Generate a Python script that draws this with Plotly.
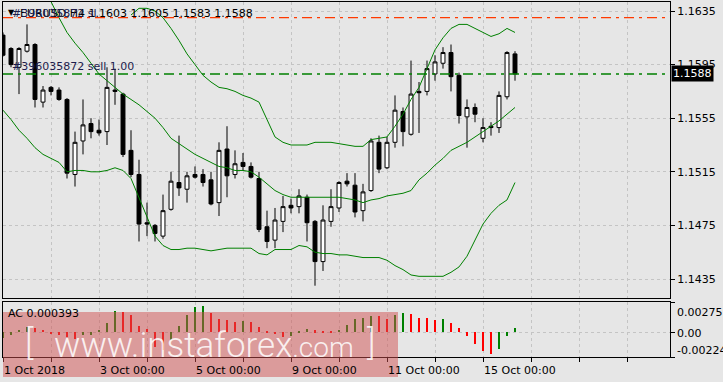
import plotly.graph_objects as go

W, H = 723, 382

# ---------------- data (EURUSD H4) ----------------
opens = [1.1617, 1.1607, 1.1593, 1.1605, 1.1610, 1.1567, 1.1578, 1.1576, 1.1569, 1.1513,
         1.1538, 1.1551, 1.1546, 1.1545, 1.1576, 1.1573, 1.1531, 1.1513, 1.1477, 1.1475,
         1.1467, 1.1487, 1.1507, 1.1502, 1.1513, 1.1513, 1.1509, 1.1492, 1.1532, 1.1513,
         1.1522, 1.1519, 1.1510, 1.1474, 1.1464, 1.1478, 1.1490, 1.1489, 1.1496, 1.1478,
         1.1448, 1.1478, 1.1488, 1.1508, 1.1505, 1.1486, 1.1501, 1.1537, 1.1518, 1.1537,
         1.1560, 1.1543, 1.1575, 1.1575, 1.1588, 1.1596, 1.1604, 1.1587, 1.1556, 1.1563,
         1.1540, 1.1549, 1.1548, 1.1571, 1.1603]
highs = [1.1619, 1.1608, 1.1608, 1.1625, 1.1611, 1.1579, 1.1579, 1.1578, 1.1570, 1.1545,
         1.1569, 1.1555, 1.1554, 1.1593, 1.1592, 1.1574, 1.1546, 1.1524, 1.1492, 1.1476,
         1.1498, 1.1515, 1.1542, 1.1515, 1.1519, 1.1517, 1.1515, 1.1537, 1.1549, 1.1531,
         1.1529, 1.1522, 1.1515, 1.1486, 1.1488, 1.1497, 1.1495, 1.1502, 1.1498, 1.1479,
         1.1490, 1.1502, 1.1508, 1.1514, 1.1514, 1.1506, 1.1540, 1.1542, 1.1541, 1.1572,
         1.1563, 1.1598, 1.1582, 1.1598, 1.1602, 1.1608, 1.1610, 1.1589, 1.1569, 1.1566,
         1.1555, 1.1552, 1.1575, 1.1605, 1.1605]
lows = [1.1601, 1.1593, 1.1573, 1.1604, 1.1563, 1.1563, 1.1572, 1.1568, 1.1510, 1.1504,
        1.1528, 1.1540, 1.1542, 1.1535, 1.1565, 1.1526, 1.1511, 1.1463, 1.1467, 1.1463,
        1.1465, 1.1486, 1.1497, 1.1492, 1.1510, 1.1504, 1.1490, 1.1482, 1.1496, 1.1510,
        1.1516, 1.1510, 1.1470, 1.1458, 1.1458, 1.1470, 1.1484, 1.1484, 1.1463, 1.1430,
        1.1441, 1.1474, 1.1485, 1.1504, 1.1481, 1.1478, 1.1500, 1.1514, 1.1517, 1.1533,
        1.1534, 1.1542, 1.1544, 1.1572, 1.1583, 1.1592, 1.1575, 1.1551, 1.1533, 1.1552,
        1.1537, 1.1542, 1.1544, 1.1569, 1.1583]
closes = [1.1602, 1.1595, 1.1607, 1.1610, 1.1569, 1.1576, 1.1575, 1.1569, 1.1514, 1.1537,
          1.1550, 1.1545, 1.1544, 1.1578, 1.1575, 1.1528, 1.1513, 1.1476, 1.1476, 1.1469,
          1.1486, 1.1508, 1.1503, 1.1512, 1.1511, 1.1507, 1.1491, 1.1531, 1.1512, 1.1521,
          1.1519, 1.1511, 1.1472, 1.1463, 1.1479, 1.1489, 1.1488, 1.1497, 1.1477, 1.1448,
          1.1479, 1.1489, 1.1507, 1.1506, 1.1485, 1.1500, 1.1538, 1.1517, 1.1537, 1.1561,
          1.1545, 1.1573, 1.1574, 1.1592, 1.1597, 1.1604, 1.1586, 1.1557, 1.1563, 1.1558,
          1.1548, 1.1548, 1.1572, 1.1604, 1.1588]

N = None
bb_upper = [N] * 16 + [
    1.1632, 1.1637, 1.1637, 1.1635, 1.1630, 1.1622, 1.1613, 1.1603, 1.1595, 1.1587,
    1.1582, 1.1578, 1.1577, 1.1575, 1.1572, 1.1570, 1.1567, 1.1554, 1.1541, 1.1537,
    1.1535, 1.1535, 1.1535, 1.1537, 1.1537, 1.1537, 1.1536, 1.1535, 1.1534, 1.1534,
    1.1539, 1.1540, 1.1541, 1.1549, 1.1558, 1.1569, 1.1578, 1.1592, 1.1606, 1.1615,
    1.1622, 1.1625, 1.1625, 1.1622, 1.1619, 1.1616, 1.1618, 1.1622, 1.1619]
bb_middle = [N] * 4 + [
    1.1658, 1.1650, 1.1642, 1.1630, 1.1619, 1.1611, 1.1604, 1.1596, 1.1588, 1.1583,
    1.1578, 1.1573, 1.1569, 1.1565, 1.1560, 1.1555, 1.1548, 1.1540, 1.1536, 1.1532,
    1.1528, 1.1525, 1.1522, 1.1519, 1.1518, 1.1516, 1.1516, 1.1515, 1.1511, 1.1506,
    1.1501, 1.1498, 1.1496, 1.1496, 1.1496, 1.1496, 1.1496, 1.1496, 1.1496, 1.1495,
    1.1494, 1.1492, 1.1494, 1.1495, 1.1497, 1.1498, 1.1499, 1.1501, 1.1509, 1.1514,
    1.1520, 1.1525, 1.1531, 1.1534, 1.1537, 1.1541, 1.1545, 1.1549, 1.1553, 1.1558,
    1.1563]
bb_lower = [1.1561, 1.1554, 1.1546, 1.1540, 1.1533, 1.1528, 1.1525, 1.1522, 1.1515, 1.1516,
            1.1516, 1.1515, 1.1515, 1.1516, 1.1518, 1.1516, 1.1510, 1.1496, 1.1481, 1.1467,
            1.1460, 1.1457, 1.1457, 1.1458, 1.1458, 1.1457, 1.1456, 1.1457, 1.1458, 1.1458,
            1.1458, 1.1458, 1.1454, 1.1453, 1.1457, 1.1457, 1.1457, 1.1460, 1.1459, 1.1455,
            1.1454, 1.1454, 1.1453, 1.1453, 1.1452, 1.1451, 1.1451, 1.1451, 1.1449, 1.1445,
            1.1442, 1.1438, 1.1437, 1.1437, 1.1437, 1.1437, 1.1440, 1.1444, 1.1452, 1.1464,
            1.1476, 1.1484, 1.1490, 1.1494, 1.1507]

ac_values = [-0.00051, -0.00021, 0.00024, 0.00048, 0.00042, 0.00020, -0.00008, -0.00028, -0.00042, -0.00057,
             -0.00027, -0.00021, 0.00020, 0.00085, 0.00193, 0.00184, 0.00154, 0.00054, 0.00033, -0.00133,
             -0.00163, -0.00072, 0.00054, 0.00154, 0.00230, 0.00242, 0.00175, 0.00124, 0.00115, 0.00091,
             0.00103, 0.00094, 0.00048, 0.00006, -0.00018, -0.00042, -0.00033, 0.00012, 0.00033, 0.00018,
             0.00012, 0.00009, 0.00024, 0.00063, 0.00124, 0.00133, 0.00148, 0.00145, 0.00124, 0.00154,
             0.00178, 0.00169, 0.00133, 0.00130, 0.00109, 0.00124, 0.00085, 0.00042, -0.00036, -0.00103,
             -0.00169, -0.00193, -0.00148, -0.00036, 0.000393]

price_ticks = [1.1435, 1.1475, 1.1515, 1.1555, 1.1595, 1.1635]
date_labels = ["1 Oct 2018", "3 Oct 00:00", "5 Oct 00:00", "9 Oct 00:00", "11 Oct 00:00", "15 Oct 00:00"]
date_label_bars = [0, 12, 24, 36, 48, 60]
day_bars = list(range(0, 84, 6))
sl_price = 1.1630
order_price = 1.1588
ac_top, ac_bottom = 0.002751, -0.00224
title_text = "EURUSD,H4 1.1603 1.1605 1.1583 1.1588"
order_id = "#396035872"

# ---------------- geometry ----------------
def px(x):
    return x / W

def py(y):
    return 1 - y / H

idx = list(range(len(opens)))
x_range = [0, (670 - 3) / 8]
main_range = [1.142082, 1.164172]

BG = "#E6E6E6"
GRID = "#C4C4C4"
GREEN = "#008000"
RED = "#FF0000"
TXT = "#1C1C4C"
FONT = "DejaVu Sans"

fig = go.Figure()

fig.add_trace(go.Candlestick(
    x=idx, open=opens, high=highs, low=lows, close=closes,
    increasing=dict(line=dict(color="black", width=1), fillcolor="white"),
    decreasing=dict(line=dict(color="black", width=1), fillcolor="black"),
    whiskerwidth=0, xaxis="x", yaxis="y", showlegend=False, hoverinfo="skip"))

for band in (bb_upper, bb_middle, bb_lower):
    fig.add_trace(go.Scatter(x=idx, y=band, mode="lines",
                             line=dict(color=GREEN, width=1), connectgaps=False,
                             xaxis="x", yaxis="y", showlegend=False, hoverinfo="skip"))

ac_colors = []
prev = None
for v in ac_values:
    ac_colors.append(GREEN if prev is None or v >= prev else RED)
    prev = v

fig.add_trace(go.Bar(x=idx, y=ac_values, marker=dict(color=ac_colors, line=dict(width=0)),
                     width=0.22, xaxis="x2", yaxis="y2", showlegend=False, hoverinfo="skip"))

axis_common = dict(showline=True, mirror=True, linecolor="black", linewidth=1,
                   zeroline=False, gridcolor=GRID, griddash="3px,3px", gridwidth=1)

fig.update_layout(
    width=W, height=H, margin=dict(l=0, r=0, t=0, b=0),
    paper_bgcolor=BG, plot_bgcolor=BG, bargap=0,
    font=dict(family=FONT, size=11, color="black"),
    xaxis=dict(domain=[px(3), px(670)], range=x_range, anchor="y",
               tickvals=day_bars, showticklabels=False, ticks="",
               showgrid=True, rangeslider=dict(visible=False), **axis_common),
    yaxis=dict(domain=[py(298), py(2)], range=main_range, anchor="x", side="right",
               tickvals=price_ticks, ticktext=[f"{v:.4f}" for v in price_ticks],
               ticks="outside", ticklen=4, tickcolor="black",
               tickfont=dict(family=FONT, size=11, color="black"),
               showgrid=True, **axis_common),
    xaxis2=dict(domain=[px(3), px(670)], range=x_range, anchor="y2",
                tickvals=day_bars, showticklabels=False, ticks="outside", ticklen=4,
                tickcolor="black", showgrid=True, **axis_common),
    yaxis2=dict(domain=[py(357), py(302)], range=[ac_bottom, ac_top], anchor="x2", side="right",
                tickvals=[ac_top, 0, ac_bottom], showticklabels=False, ticks="outside",
                ticklen=4, tickcolor="black", showgrid=True, **axis_common),
)

# trade levels
fig.add_shape(type="line", xref="x domain", x0=0, x1=1, yref="y", y0=sl_price, y1=sl_price,
              line=dict(color="#FF3A00", width=1.3, dash="10px,5px,3px,5px"))
fig.add_shape(type="line", xref="x domain", x0=0, x1=1, yref="y", y0=order_price, y1=order_price,
              line=dict(color=GREEN, width=1.3, dash="10px,5px,3px,5px"))

ann = []
# date labels
for b, t in zip(date_label_bars, date_labels):
    ann.append(dict(x=b, xref="x2", y=py(370), yref="paper", text=t, showarrow=False,
                    xanchor="left", yanchor="middle", xshift=-1,
                    font=dict(family=FONT, size=11, color="black")))
# indicator scale labels
for yy, t in ((312, f"{ac_top:.6f}"), (333, "0.00"), (350, f"{ac_bottom:.5f}")):
    ann.append(dict(x=px(675), xref="paper", y=py(yy), yref="paper", text=t, showarrow=False,
                    xanchor="left", yanchor="middle",
                    font=dict(family=FONT, size=11, color="black")))
# current price box
ann.append(dict(x=px(671), xref="paper", y=order_price, yref="y", text=f"{order_price:.4f}",
                showarrow=False, xanchor="left", yanchor="middle", bgcolor="black",
                borderpad=1, font=dict(family=FONT, size=11, color="white")))
# title + object labels
ann.append(dict(x=px(6), xref="paper", y=py(12), yref="paper", text="▼", showarrow=False,
                xanchor="left", yanchor="middle", font=dict(family=FONT, size=8, color="black")))
ann.append(dict(x=px(18), xref="paper", y=py(13), yref="paper", text=title_text, showarrow=False,
                xanchor="left", yanchor="middle", font=dict(family=FONT, size=11, color="black")))
ann.append(dict(x=px(10), xref="paper", y=py(13), yref="paper", text=f"{order_id} sl",
                showarrow=False, xanchor="left", yanchor="middle",
                font=dict(family=FONT, size=11, color=TXT)))
ann.append(dict(x=px(10), xref="paper", y=py(66), yref="paper", text=f"{order_id} sell 1.00",
                showarrow=False, xanchor="left", yanchor="middle",
                font=dict(family=FONT, size=11, color=TXT)))
ann.append(dict(x=px(6), xref="paper", y=py(313), yref="paper", text=f"AC {ac_values[-1]:.6f}",
                showarrow=False, xanchor="left", yanchor="middle",
                font=dict(family=FONT, size=11, color="black")))

# watermark
fig.add_shape(type="rect", xref="paper", yref="paper", x0=px(3), x1=px(398), y0=py(377), y1=py(312),
              fillcolor="rgba(208,80,80,0.5)", line=dict(width=0), layer="above")
WM = dict(family="Roboto", size=35, color="rgba(255,255,255,0.85)", weight=300)
ann.append(dict(x=px(29), xref="paper", y=py(343), yref="paper", text="[",
                showarrow=False, xanchor="center", yanchor="middle", font=WM))
ann.append(dict(x=px(371), xref="paper", y=py(343), yref="paper", text="]",
                showarrow=False, xanchor="center", yanchor="middle", font=WM))
ann.append(dict(x=px(204), xref="paper", y=py(345), yref="paper",
                text="www.instaforex<span style='font-size:28px'>.com</span>",
                showarrow=False, xanchor="center", yanchor="middle", font=WM))

fig.update_layout(annotations=ann)
fig.write_html("out.html")
